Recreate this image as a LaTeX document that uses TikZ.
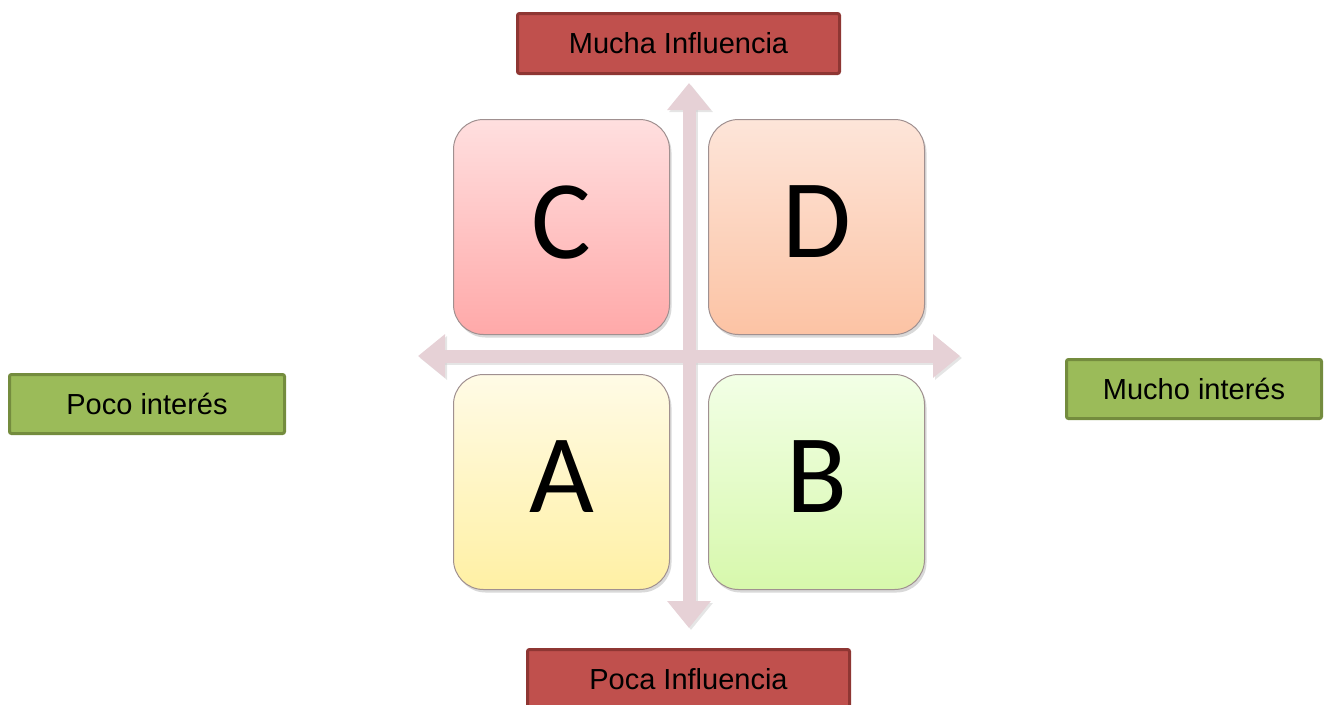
\documentclass[tikz,border=0pt]{standalone}
\usepackage{fontspec}
\setmainfont{Liberation Sans}
\newfontfamily\quadfont{Carlito}
\usetikzlibrary{arrows.meta,shadows}
\definecolor{redfill}{HTML}{C0504D}
\definecolor{redline}{HTML}{8E3633}
\definecolor{greenfill}{HTML}{9BBB59}
\definecolor{greenline}{HTML}{748C3E}
\definecolor{axiscol}{HTML}{E6D1D6}
\definecolor{quadline}{HTML}{A09090}
\definecolor{cTop}{HTML}{FFDFDF}
\definecolor{cBot}{HTML}{FFA9A9}
\definecolor{dTop}{HTML}{FDE5D9}
\definecolor{dBot}{HTML}{FCC3A4}
\definecolor{aTop}{HTML}{FFFBE6}
\definecolor{aBot}{HTML}{FFF0A4}
\definecolor{bTop}{HTML}{F2FFE6}
\definecolor{bBot}{HTML}{D7F8AC}
\tikzset{
  redlabel/.style={draw=redline, fill=redfill, line width=3pt, rounded corners=2pt,
    inner sep=0pt, minimum width=322pt, minimum height=60pt, font=\fontsize{29}{34}\selectfont},
  greenlabel/.style={draw=greenline, fill=greenfill, line width=3pt, rounded corners=2pt,
    inner sep=0pt, minimum height=59pt, font=\fontsize{29}{34}\selectfont},
  quad/.style={draw=quadline, line width=1pt, rounded corners=30pt, inner sep=0pt,
    minimum width=216pt, minimum height=215pt, font=\quadfont\fontsize{112}{120}\selectfont,
    drop shadow={shadow xshift=2pt, shadow yshift=-3pt, opacity=0.25, fill=black!60}},
  axis/.style={draw=axiscol, line width=13pt,
    {Triangle[width=42pt,length=27pt]}-{Triangle[width=42pt,length=27pt]}}
}
\begin{document}
\begin{tikzpicture}[x=1pt,y=-1pt]
\useasboundingbox (0,0) rectangle (1325,704);
% axes
\coordinate (hL) at (418,356);
\coordinate (hR) at (960,356);
\coordinate (vT) at (689,83);
\coordinate (vB) at (689,628);
\draw[axis, draw=black!20, opacity=0.5] ([xshift=2pt,yshift=-2pt]hL) -- ([xshift=2pt,yshift=-2pt]hR);
\draw[axis, draw=black!20, opacity=0.5] ([xshift=2pt,yshift=-2pt]vT) -- ([xshift=2pt,yshift=-2pt]vB);
\draw[axis] (hL) -- (hR);
\draw[axis] (vT) -- (vB);
% quadrants
\node[quad, top color=cTop, bottom color=cBot] (C) at (561.5,227) {\raisebox{10pt}{C}};
\node[quad, top color=dTop, bottom color=dBot] (D) at (816.5,227) {\raisebox{10pt}{D}};
\node[quad, top color=aTop, bottom color=aBot] (A) at (561.5,482) {\raisebox{10pt}{A}};
\node[quad, top color=bTop, bottom color=bBot] (B) at (816.5,482) {\raisebox{10pt}{B}};
% labels
\node[redlabel] (top) at (678.5,43.5) {Mucha Influencia};
\node[redlabel] (bottom) at (688.5,679.5) {Poca Influencia};
\node[greenlabel, minimum width=275pt] (left) at (147,404) {Poco interés};
\node[greenlabel, minimum width=255pt] (right) at (1194,389) {Mucho interés};
\end{tikzpicture}
\end{document}
